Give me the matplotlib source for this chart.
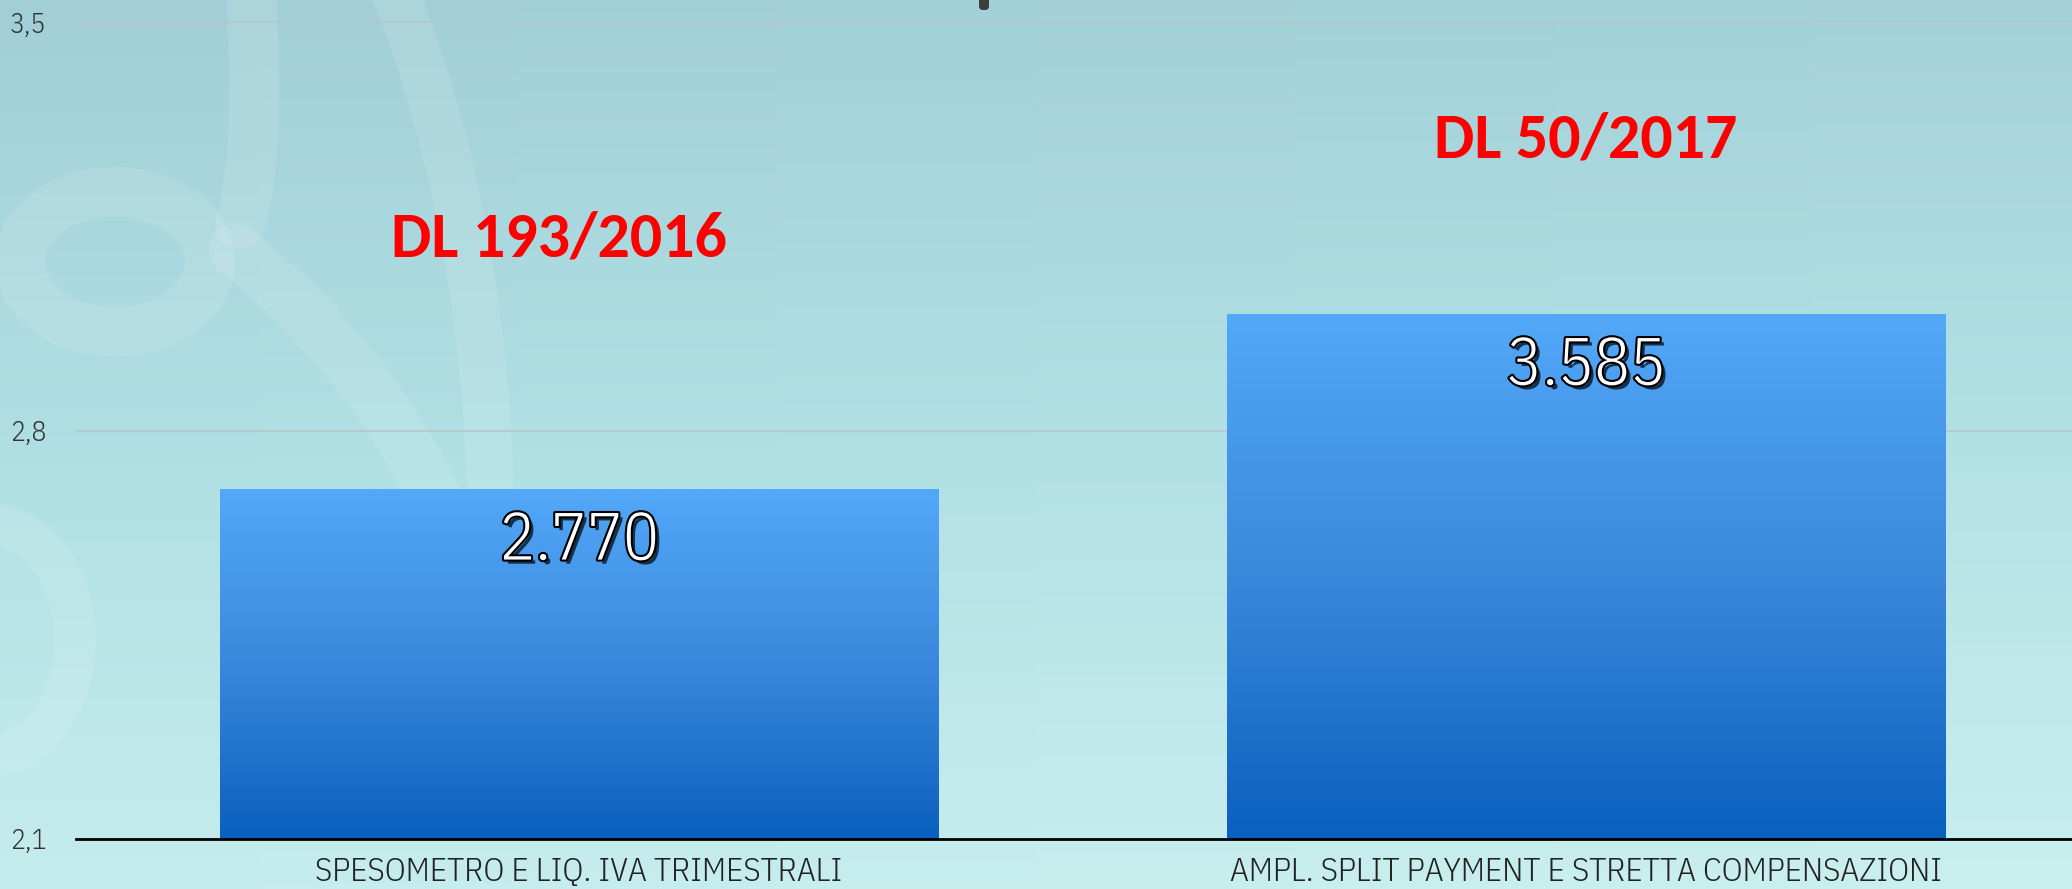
import matplotlib
matplotlib.use("Agg")
import matplotlib.pyplot as plt
import matplotlib.patheffects as pe
from matplotlib import font_manager as fm
from matplotlib.colors import LinearSegmentedColormap
from matplotlib.patches import Ellipse, FancyBboxPatch, PathPatch
from matplotlib.path import Path
import numpy as np

# data
categories = ["SPESOMETRO E LIQ. IVA TRIMESTRALI",
              "AMPL. SPLIT PAYMENT E STRETTA COMPENSAZIONI"]
heights = [2.70, 3.00]
value_labels = ["2.770", "3.585"]
decree_labels = ["DL 193/2016", "DL 50/2017"]
decree_pos = [(-0.02, 3.13), (1.0, 3.30)]
yticks = [2.1, 2.8, 3.5]
ytick_labels = ["2,1", "2,8", "3,5"]

installed = {f.name for f in fm.fontManager.ttflist}
THIN = "IBM Plex Sans Condensed" if "IBM Plex Sans Condensed" in installed else "DejaVu Sans"
if "Carlito" in installed:
    BOLD, BOLD_SIZE = "Carlito", 46
else:
    BOLD, BOLD_SIZE = THIN, 44

W, H = 2072, 889
fig = plt.figure(figsize=(W / 100, H / 100), dpi=100)

# background gradient + light swirl decoration
bg = fig.add_axes([0, 0, 1, 1])
bg.set_xlim(0, W)
bg.set_ylim(H, 0)
bg.axis("off")
bg_cmap = LinearSegmentedColormap.from_list("bg", ["#A2CFD7", "#B0E0E4", "#C8EEEE"])
grad = np.linspace(0, 1, 256).reshape(-1, 1) * np.ones((1, 8))
grad = grad + np.linspace(0, 0.08, 8)[None, :]
bg.imshow(grad, cmap=bg_cmap, extent=[0, W, H, 0], aspect="auto", vmin=0, vmax=1.05)

sw = dict(facecolor="none", edgecolor="white", alpha=0.11, capstyle="round")
bg.add_patch(Ellipse((115, 262), 190, 140, lw=36, **sw))
bg.add_patch(PathPatch(Path([(250, -20), (262, 150), (240, 225)],
                            [Path.MOVETO, Path.CURVE3, Path.CURVE3]), lw=36, **sw))
bg.add_patch(PathPatch(Path([(235, 250), (400, 380), (480, 600)],
                            [Path.MOVETO, Path.CURVE3, Path.CURVE3]), lw=38, **sw))
bg.add_patch(PathPatch(Path([(390, -20), (480, 200), (490, 480)],
                            [Path.MOVETO, Path.CURVE3, Path.CURVE3]), lw=34, **sw))
bg.add_patch(Ellipse((-10, 640), 170, 230, lw=30, **sw))
bg.add_patch(FancyBboxPatch((979, -10), 10, 20, boxstyle="round,pad=0,rounding_size=4",
                            facecolor="#3E3E3E", edgecolor="none"))

ax = fig.add_axes([75.5 / W, 50 / H, 2014 / W, 816.5 / H])
ax.patch.set_alpha(0)

x = np.arange(len(categories))
bw = 0.714
ymin, ymax = 2.1, 3.5
bars = ax.bar(x, heights, width=bw, color="none", edgecolor="none", zorder=2)

bar_cmap = LinearSegmentedColormap.from_list("bar", ["#0A60BE", "#3A88DC", "#53A8F8"])
g = np.linspace(1, 0, 256).reshape(-1, 1)
for xi, h, b in zip(x, heights, bars):
    im = ax.imshow(g, cmap=bar_cmap, extent=[xi - bw / 2, xi + bw / 2, ymin, h],
                   aspect="auto", zorder=2)
    im.set_clip_path(b)

for y in yticks[1:]:
    ax.axhline(y, color="#B7C6C9", lw=1.2, zorder=1, clip_on=False)

ax.set_xlim(-0.5, 1.5)
ax.set_ylim(ymin, ymax)

for s in ["top", "right", "left"]:
    ax.spines[s].set_visible(False)
ax.spines["bottom"].set_color("black")
ax.spines["bottom"].set_linewidth(2)
ax.spines["bottom"].set_zorder(3)

ax.set_yticks(yticks)
ax.set_yticklabels(ytick_labels, family=THIN, fontweight=300, fontsize=20, color="#333333")
ax.set_xticks(x)
ax.set_xticklabels(categories, family=THIN, fontweight=300, fontsize=24, color="#222222")
ax.tick_params(axis="y", length=0, pad=21)
ax.tick_params(axis="x", length=0, pad=13)

effects = [pe.SimplePatchShadow(offset=(3, -3), shadow_rgbFace="black", alpha=0.7),
           pe.Stroke(linewidth=3, foreground="black"), pe.Normal()]
for xi, h, lab in zip(x, heights, value_labels):
    ax.text(xi, h - 0.09, lab, ha="center", va="center", family=THIN, fontweight=300,
            fontsize=48, color="white", path_effects=effects, zorder=4)

for (dx, dy), lab in zip(decree_pos, decree_labels):
    ax.text(dx, dy, lab, ha="center", va="center", family=BOLD,
            fontsize=BOLD_SIZE, fontweight="bold", color="#FF0000", zorder=4)

fig.savefig("out.png", dpi=100)
